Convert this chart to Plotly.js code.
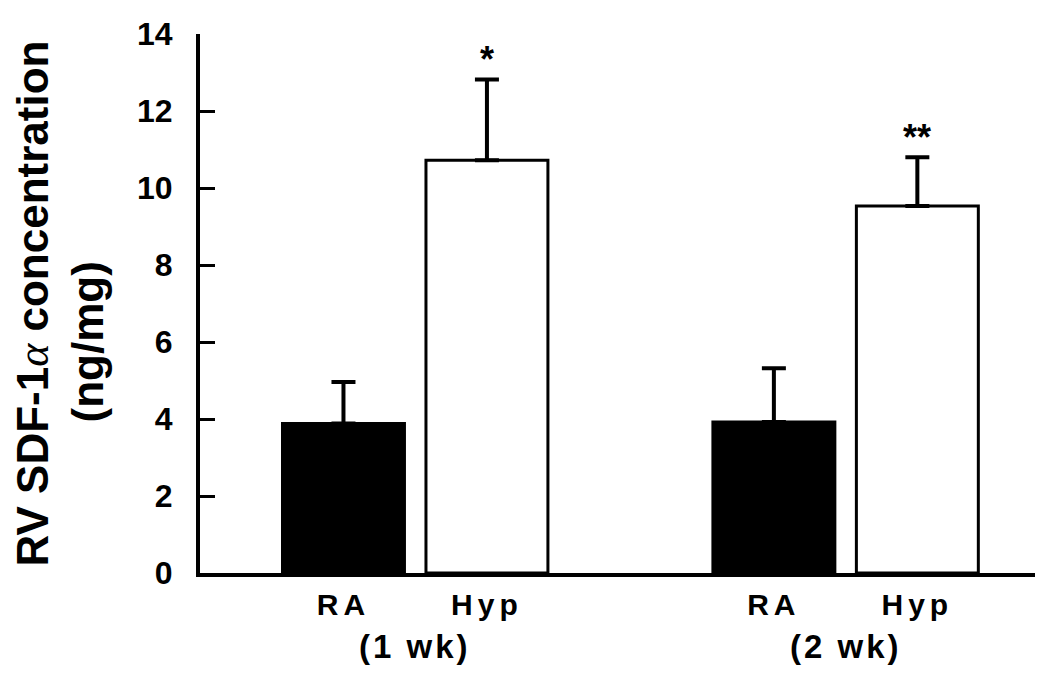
<!DOCTYPE html>
<html>
<head>
<meta charset="utf-8">
<script src="https://cdn.plot.ly/plotly-3.0.1.min.js"></script>
<style>html,body{margin:0;padding:0;background:#fff;}#chart{width:1050px;height:690px;}</style>
</head>
<body>
<div id="chart"></div>
<script>
// Data
const groups = ["(1 wk)", "(2 wk)"];
const conditions = ["RA", "Hyp"];
const raMean = [3.88, 3.92];
const raSEM = [1.08, 1.40];
const hypMean = [10.72, 9.53];
const hypSEM = [2.10, 1.27];
const hypSignificance = ["*", "**"];

// Layout helpers (positions computed from structure)
const groupStride = 3;
const xRA = groups.map((g, i) => i * groupStride);
const xHyp = groups.map((g, i) => i * groupStride + 1);

const fontBold = "'Liberation Sans', Arial, sans-serif";
const spaced = (t, px) => '<span style="letter-spacing:' + px + 'px">' + t + '</span>';

const barWidth = 0.85;
const traces = [
  {
    type: "bar", x: xRA, y: raMean, width: barWidth, name: "RA",
    marker: {color: "#000", line: {color: "#000", width: 3}},
    error_y: {type: "data", array: raSEM, arrayminus: raSEM.map(() => 0), symmetric: false,
              color: "#000", thickness: 4, width: 12, visible: true},
    hoverinfo: "y"
  },
  {
    type: "bar", x: xHyp, y: hypMean, width: barWidth, name: "Hyp",
    marker: {color: "#fff", line: {color: "#000", width: 3}},
    error_y: {type: "data", array: hypSEM, arrayminus: hypSEM.map(() => 0), symmetric: false,
              color: "#000", thickness: 4, width: 12, visible: true},
    hoverinfo: "y"
  }
];

const annotations = [];
// significance markers
hypSignificance.forEach((s, i) => {
  annotations.push({
    x: xHyp[i], y: hypMean[i] + hypSEM[i], xref: "x", yref: "y",
    text: s, showarrow: false, yanchor: "bottom", yshift: -3,
    font: {family: fontBold, size: 36, color: "#000", weight: 700}
  });
});
// group labels
groups.forEach((g, i) => {
  annotations.push({
    x: (xRA[i] + xHyp[i]) / 2, y: 0, xref: "x", yref: "paper",
    text: spaced(g, 3), showarrow: false, yanchor: "top", yshift: -53,
    font: {family: fontBold, size: 33, color: "#000", weight: 700}
  });
});
// y-axis title (two lines)
annotations.push({
  x: 0, xref: "paper", xshift: -168, y: 0.5, yref: "paper",
  text: 'RV SDF-1<span style="font-family:\'Liberation Serif\',serif;font-weight:normal"><i>α</i></span> concentration',
  textangle: -90, showarrow: false, xanchor: "center", yanchor: "middle",
  font: {family: fontBold, size: 44, color: "#000", weight: 700}
});
annotations.push({
  x: 0, xref: "paper", xshift: -113, y: 0.5, yref: "paper", yshift: -39,
  text: "(ng/mg)",
  textangle: -90, showarrow: false, xanchor: "center", yanchor: "middle",
  font: {family: fontBold, size: 44, color: "#000", weight: 700}
});

const layout = {
  width: 1050, height: 690,
  margin: {l: 200, r: 15, t: 34, b: 117},
  paper_bgcolor: "#fff", plot_bgcolor: "#fff",
  showlegend: false,
  barmode: "overlay",
  xaxis: {
    range: [-1.0, 4.82], showgrid: false, zeroline: false,
    showline: true, linecolor: "#000", linewidth: 4,
    ticks: "", tickvals: xRA.concat(xHyp),
    ticktext: xRA.map(() => spaced(conditions[0], 5)).concat(xHyp.map(() => spaced(conditions[1], 5))),
    tickfont: {family: fontBold, size: 30, color: "#000", weight: 700},
    ticklabelstandoff: 2,
    fixedrange: true
  },
  yaxis: {
    range: [0, 14], dtick: 2, showgrid: false, zeroline: false,
    showline: true, linecolor: "#000", linewidth: 4,
    ticks: "inside", ticklen: 15, tickwidth: 3, tickcolor: "#000",
    tickfont: {family: fontBold, size: 32, color: "#000", weight: 700},
    ticklabelstandoff: 17,
    fixedrange: true
  },
  annotations: annotations
};

Plotly.newPlot("chart", traces, layout, {displayModeBar: false, staticPlot: true});
</script>
</body>
</html>
